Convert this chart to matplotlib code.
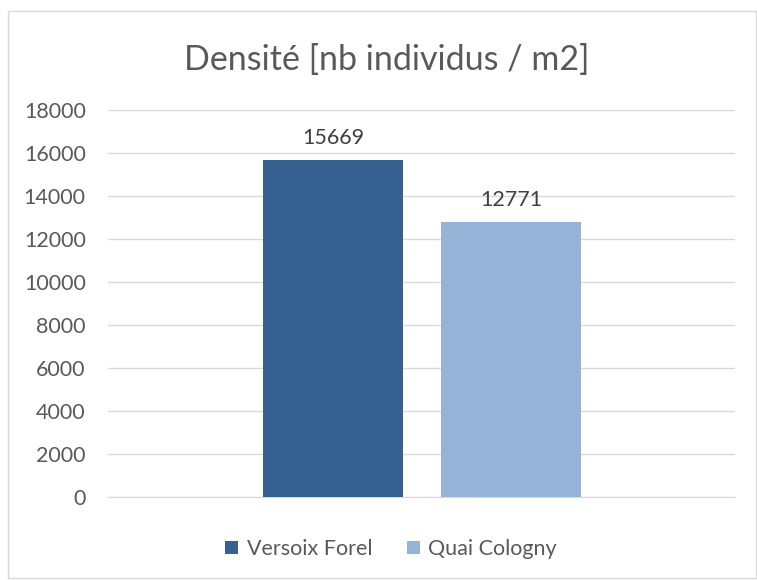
import matplotlib.pyplot as plt
from matplotlib.patches import Rectangle

# Data
series_names = ['Versoix Forel', 'Quai Cologny']
densities = [15669, 12771]
colors = ['#35608F', '#95B3D7']
y_ticks = list(range(0, 18001, 2000))

plt.rcParams['font.family'] = ['Lato', 'DejaVu Sans']

W, H = 757, 580
fig = plt.figure(figsize=(W / 100, H / 100), dpi=100)

# chart border
fig.patches.append(Rectangle((8 / W, 2 / H), (W - 9) / W, (H - 13) / H,
                             transform=fig.transFigure, fill=False,
                             edgecolor='#D9D9D9', linewidth=1))

ax = fig.add_axes([108 / W, (H - 497) / H, 627 / W, 387 / H])
ax.set_xlim(0, 1)
ax.set_ylim(0, 18000)

width = 140 / 627
positions = [(333 - 108) / 627, (511 - 108) / 627]
for pos, val, col, name in zip(positions, densities, colors, series_names):
    ax.bar(pos, val, width=width, color=col, label=name, zorder=3)
    ax.annotate(str(val), (pos, val), xytext=(0, 9), textcoords='offset points',
                ha='center', va='bottom', fontsize=15.5, color='#404040')

ax.set_yticks(y_ticks)
ax.set_yticklabels([str(t) for t in y_ticks], fontsize=15.5, color='#595959')
ax.tick_params(axis='y', length=0, pad=16)
ax.set_xticks([])
ax.grid(axis='y', color='#D9D9D9', linewidth=1, zorder=0)
for s in ['top', 'right', 'left']:
    ax.spines[s].set_visible(False)
ax.spines['bottom'].set_color('#D9D9D9')

fig.text(387 / W, 1 - 60 / H, 'Densité [nb individus / m2]', ha='center',
         va='center', fontsize=24.5, color='#595959')

fig.legend(loc='center', bbox_to_anchor=(391 / W, 1 - 549 / H), ncol=2,
           frameon=False, fontsize=15.5, handlelength=0.6, handleheight=0.6,
           columnspacing=1.6, handletextpad=0.4, labelcolor='#595959')

fig.savefig('out.png', dpi=100)
